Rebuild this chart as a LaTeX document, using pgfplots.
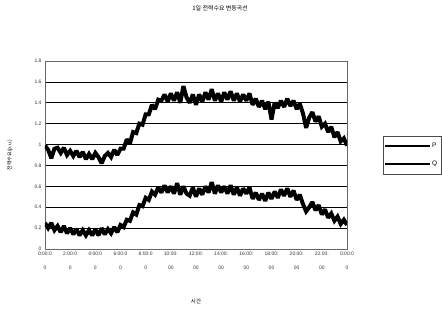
\documentclass[border=0pt]{standalone}
\usepackage{pgfplots}
\pgfplotsset{compat=1.18}
\usepackage{fontspec}
\setmainfont{Liberation Sans}
\newfontfamily\kr{Noto Sans CJK KR}
\pgfplotstableread{
t v
0 0.99
0.25 0.95
0.5 0.87
0.75 0.96
1 0.97
1.25 0.92
1.5 0.97
1.75 0.90
2 0.94
2.25 0.89
2.5 0.94
2.75 0.88
3 0.93
3.25 0.86
3.5 0.91
3.75 0.86
4 0.92
4.25 0.88
4.5 0.82
4.75 0.89
5 0.92
5.25 0.88
5.5 0.95
5.75 0.90
6 0.96
6.25 0.96
6.5 1.05
6.75 1.01
7 1.12
7.25 1.11
7.5 1.20
7.75 1.19
8 1.29
8.25 1.29
8.5 1.38
8.75 1.34
9 1.43
9.25 1.42
9.5 1.48
9.75 1.41
10 1.49
10.25 1.42
10.5 1.50
10.75 1.40
11 1.56
11.25 1.45
11.5 1.40
11.75 1.48
12 1.38
12.25 1.48
12.5 1.41
12.75 1.50
13 1.43
13.25 1.53
13.5 1.42
13.75 1.49
14 1.41
14.25 1.50
14.5 1.43
14.75 1.51
15 1.42
15.25 1.49
15.5 1.41
15.75 1.48
16 1.42
16.25 1.49
16.5 1.38
16.75 1.44
17 1.36
17.25 1.42
17.5 1.34
17.75 1.41
18 1.24
18.25 1.40
18.5 1.35
18.75 1.42
19 1.36
19.25 1.44
19.5 1.37
19.75 1.42
20 1.34
20.25 1.39
20.5 1.30
20.75 1.16
21 1.26
21.25 1.31
21.5 1.22
21.75 1.27
22 1.17
22.25 1.20
22.5 1.12
22.75 1.17
23 1.07
23.25 1.12
23.5 1.03
23.75 1.06
24 0.99
}\tableP
\pgfplotstableread{
t v
0 0.25
0.25 0.20
0.5 0.25
0.75 0.18
1 0.22
1.25 0.16
1.5 0.22
1.75 0.15
2 0.20
2.25 0.14
2.5 0.19
2.75 0.13
3 0.18
3.25 0.13
3.5 0.18
3.75 0.13
4 0.19
4.25 0.13
4.5 0.20
4.75 0.14
5 0.19
5.25 0.15
5.5 0.21
5.75 0.16
6 0.23
6.25 0.21
6.5 0.28
6.75 0.27
7 0.35
7.25 0.33
7.5 0.42
7.75 0.41
8 0.49
8.25 0.47
8.5 0.55
8.75 0.52
9 0.59
9.25 0.54
9.5 0.61
9.75 0.54
10 0.60
10.25 0.53
10.5 0.63
10.75 0.52
11 0.60
11.25 0.53
11.5 0.51
11.75 0.59
12 0.50
12.25 0.58
12.5 0.52
12.75 0.60
13 0.54
13.25 0.64
13.5 0.53
13.75 0.61
14 0.54
14.25 0.60
14.5 0.53
14.75 0.61
15 0.52
15.25 0.59
15.5 0.51
15.75 0.58
16 0.53
16.25 0.59
16.5 0.48
16.75 0.54
17 0.47
17.25 0.53
17.5 0.46
17.75 0.54
18 0.48
18.25 0.55
18.5 0.49
18.75 0.57
19 0.51
19.25 0.58
19.5 0.50
19.75 0.56
20 0.47
20.25 0.52
20.5 0.43
20.75 0.36
21 0.40
21.25 0.45
21.5 0.37
21.75 0.42
22 0.33
22.25 0.38
22.5 0.30
22.75 0.34
23 0.27
23.25 0.31
23.5 0.24
23.75 0.28
24 0.23
}\tableQ
\begin{document}
\begin{tikzpicture}
\begin{axis}[
  scale only axis,
  width=302bp, height=188bp,
  xmin=0, xmax=24, ymin=0, ymax=1.8,
  xtick={0,2,...,24},
  xticklabels={0:00:0\\0,2:00:0\\0,4:00:0\\0,6:00:0\\0,8:00:0\\0,10:00:\\00,12:00:\\00,14:00:\\00,16:00:\\00,18:00:\\00,20:00:\\00,22:00:\\00,0:00:0\\0},
  xticklabel style={align=center, font=\fontsize{5}{14}\selectfont, text=black!80},
  ytick={0,0.2,...,1.8},
  yticklabel style={font=\fontsize{5}{6}\selectfont, text=black!80},
  /pgf/number format/assume math mode=true,
  major tick length=0pt,
  ymajorgrids,
  grid style={black, line width=0.6pt},
  axis line style={black!60, line width=0.6pt},
  title={\kr 1일 전력수요 변동곡선},
  title style={font=\fontsize{6}{7}\selectfont, at={(axis description cs:0.58,1.25)}, anchor=center, yshift=0pt},
  xlabel={\kr 시간},
  xlabel style={font=\fontsize{5.5}{6}\selectfont, at={(axis description cs:0.5,-0.277)}, anchor=center},
  ylabel={\kr 전력수요(p.u.)},
  ylabel style={font=\fontsize{5}{6}\selectfont, at={(axis description cs:-0.116,0.5)}, anchor=center},
  legend style={at={(axis description cs:1.119,0.601)}, anchor=north west, draw=black!70, font=\fontsize{6.5}{7}\selectfont, inner xsep=2pt, inner ysep=5pt, row sep=8pt, cells={anchor=west}},
  legend cell align=left,
  legend image code/.code={\fill[black, draw=none] (0bp,-1bp) rectangle (45bp,1bp);},
]
\addplot[black, line width=4pt, line join=miter, miter limit=2] table[x=t,y=v] {\tableP};
\addlegendentry{P}
\addplot[black, line width=4pt, line join=miter, miter limit=2] table[x=t,y=v] {\tableQ};
\addlegendentry{Q}
\end{axis}
\useasboundingbox ([shift={(-45bp,-61bp)}]current axis.south west) rectangle ++(442bp,310bp);
\end{tikzpicture}
\end{document}
